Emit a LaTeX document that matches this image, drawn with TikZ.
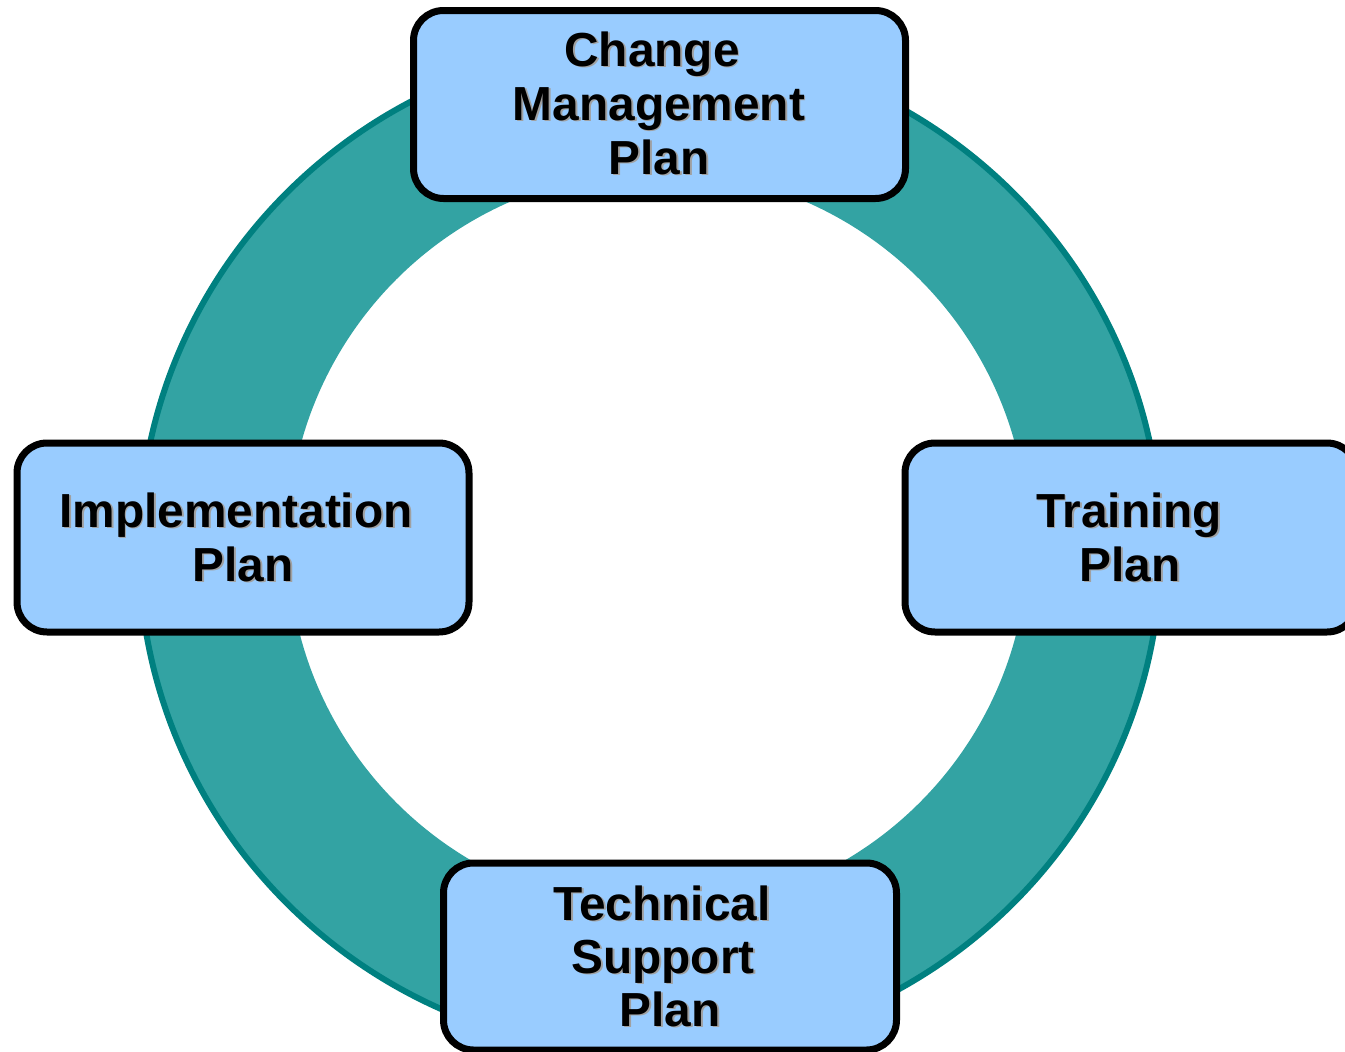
\documentclass[tikz,border=0pt]{standalone}
\usepackage{fontspec}
\setmainfont{Liberation Sans}
\definecolor{ringfill}{HTML}{33A3A3}
\definecolor{ringline}{HTML}{008080}
\definecolor{boxfill}{HTML}{99CCFF}
\definecolor{shadowgray}{HTML}{A0A0A0}
\newcommand\plantxt[4]{%
  \node[labeltext, text=shadowgray] (#1-s) at (#2+1.8,#3+1.8) {#4};
  \node[labeltext] (#1) at (#2,#3) {#4};}
\begin{document}
\begin{tikzpicture}[x=1pt,y=-1pt,
  planbox/.style={draw=black, line width=7pt, fill=boxfill, rounded corners=30pt, inner sep=0pt},
  labeltext/.style={anchor=base, inner sep=0pt, text=black, font=\fontsize{47.8}{54}\bfseries\selectfont}]
\useasboundingbox (0,0) rectangle (1345,1052);
% ring
\fill[ringfill, even odd rule] (650,548) ellipse [x radius=511pt, y radius=505pt]
  (658,541) circle [radius=370pt];
\draw[ringline, line width=6pt] (650,548) ellipse [x radius=511pt, y radius=505pt];
% boxes
\node[planbox, minimum width=492pt, minimum height=188pt] (cmbox) at (659.5,104.5) {};
\node[planbox, minimum width=452pt, minimum height=189pt] (impbox) at (243,537.5) {};
\node[planbox, minimum width=452pt, minimum height=189pt] (trbox) at (1131,537.5) {};
\node[planbox, minimum width=453pt, minimum height=187pt] (tsbox) at (670,956.5) {};
% labels
\plantxt{cm1}{652}{66}{Change}
\plantxt{cm2}{659}{120}{Management}
\plantxt{cm3}{659}{174}{Plan}
\plantxt{im1}{236}{527}{Implementation}
\plantxt{im2}{243}{581}{Plan}
\plantxt{tr1}{1129}{527}{Training}
\plantxt{tr2}{1130}{581}{Plan}
\plantxt{ts1}{662}{920}{Technical}
\plantxt{ts2}{663}{973}{Support}
\plantxt{ts3}{670}{1026}{Plan}
\end{tikzpicture}
\end{document}
